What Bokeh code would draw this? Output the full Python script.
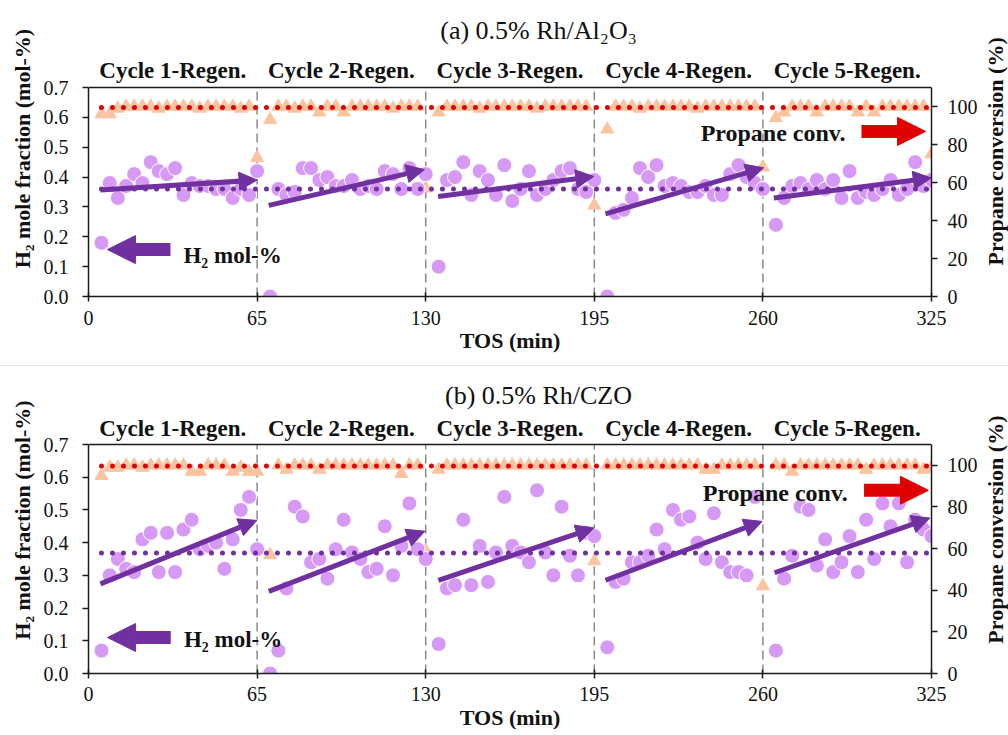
import math
from bokeh.plotting import figure
from bokeh.models import (Range1d, LinearAxis, FixedTicker, PrintfTickFormatter,
                          Span, Arrow, NormalHead, ColumnDataSource, Div)
from bokeh.core.properties import value
from bokeh.layouts import column, row
from bokeh.embed import file_html
from bokeh.resources import INLINE

NAN = float("nan")

# ---------------- data ----------------
cycle_starts = [0, 65, 130, 195, 260]
cycle_labels = ["Cycle 1-Regen.", "Cycle 2-Regen.", "Cycle 3-Regen.",
                "Cycle 4-Regen.", "Cycle 5-Regen."]
sample_min = [5.0, 8.2, 11.3, 14.5, 17.6, 20.8, 24.0, 27.1, 30.3, 33.4,
              36.6, 39.8, 42.9, 46.1, 49.2, 52.4, 55.6, 58.7, 61.9, 65.0]
x_ticks = [0, 65, 130, 195, 260, 325]
h2_ticks = [0.0, 0.1, 0.2, 0.3, 0.4, 0.5, 0.6, 0.7]
conv_ticks = [0, 20, 40, 60, 80, 100]

# (a) 0.5% Rh/Al2O3
a_h2 = [0.18, 0.38, 0.33, 0.37, 0.41, 0.38, 0.45, 0.42, 0.41, 0.43, 0.34, 0.38, 0.37, 0.37, 0.36, 0.36, 0.33, 0.36, 0.34, 0.42,
        0.00, 0.36, 0.34, 0.35, 0.43, 0.43, 0.39, 0.40, 0.37, 0.37, 0.39, 0.36, 0.37, 0.36, 0.42, 0.41, 0.36, 0.43, 0.36, 0.41,
        0.10, 0.39, 0.40, 0.45, 0.34, 0.42, 0.39, 0.34, 0.44, 0.32, 0.36, 0.42, 0.34, 0.36, 0.39, 0.42, 0.43, 0.36, 0.35, 0.39,
        0.00, 0.28, 0.29, 0.33, 0.43, 0.40, 0.44, 0.37, 0.38, 0.37, 0.35, 0.35, 0.37, 0.34, 0.34, 0.41, 0.44, 0.40, 0.38, 0.36,
        0.24, 0.33, 0.37, 0.38, 0.36, 0.39, 0.36, 0.39, 0.33, 0.42, 0.33, 0.35, 0.34, 0.36, 0.39, 0.34, 0.36, 0.45, 0.37, 0.39]
a_conv = [96, 96, 99, 100, 100, 100, 100, 99, 100, 100, 100, 100, 99, 100, 100, 100, 100, 99, 100, 73,
          93, 100, 100, 99, 100, 100, 97, 100, 100, 97, 100, 100, 100, 100, 100, 99, 100, 100, 100, 57,
          97, 100, 100, 100, 100, 99, 100, 100, 100, 100, 100, 100, 99, 100, 100, 100, 100, 100, 100, 48,
          88, 100, 100, 100, 99, 100, 100, 100, 100, 100, 100, 99, 100, 100, 100, 100, 100, 100, 100, 68,
          94, 97, 100, 100, 100, 97, 100, 100, 100, 100, 97, 100, 97, 100, 100, 100, 100, 100, 100, 75]
a_h2_avg = 0.36
a_conv_eq = 99.5
a_trend_x0 = [4.6, 69.5, 134.8, 199.3, 264.2]
a_trend_y0 = [0.357, 0.305, 0.335, 0.277, 0.330]
a_trend_x1 = [65.0, 129.5, 194.8, 260.3, 324.9]
a_trend_y1 = [0.390, 0.425, 0.402, 0.431, 0.397]

# (b) 0.5% Rh/CZO
b_h2 = [0.07, 0.30, 0.35, 0.32, 0.31, 0.41, 0.43, 0.31, 0.43, 0.31, 0.44, 0.47, 0.38, 0.39, 0.40, 0.32, 0.41, 0.50, 0.54, 0.38,
        0.00, 0.07, 0.26, 0.51, 0.48, 0.34, 0.35, 0.29, 0.38, 0.47, 0.37, 0.35, 0.31, 0.32, 0.45, 0.30, 0.39, 0.52, 0.38, 0.35,
        0.09, 0.26, 0.27, 0.47, 0.27, 0.39, 0.28, 0.37, 0.54, 0.39, 0.37, 0.34, 0.56, 0.37, 0.30, 0.51, 0.36, 0.30, 0.43, 0.42,
        0.08, 0.28, 0.29, 0.34, 0.34, 0.36, 0.44, 0.38, 0.50, 0.47, 0.48, 0.40, 0.35, 0.49, 0.34, 0.31, 0.31, 0.30, 0.54, NAN,
        0.07, 0.29, 0.36, 0.51, 0.50, 0.33, 0.41, 0.31, 0.34, 0.42, 0.31, 0.47, 0.35, 0.52, 0.45, 0.52, 0.34, 0.47, 0.44, 0.42]
b_conv = [95, 99, 99, 100, 100, 99, 100, 100, 100, 100, 100, 97, 97, 100, 100, 100, 97, 99, 97, 97,
          57, 100, 98, 100, 100, 100, 98, 100, 100, 100, 100, 100, 100, 100, 100, 100, 96, 100, 100, 59,
          98, 100, 100, 100, 100, 100, 100, 100, 100, 100, 100, 100, 100, 100, 100, 100, 100, 100, 100, 54,
          100, 100, 100, 100, 100, 100, 100, 100, 100, 100, 100, 100, 98, 98, 100, 100, 100, 100, 100, 42,
          100, 100, 97, 100, 100, 100, 100, 100, 100, 100, 100, 98, 100, 100, 100, 100, 100, 100, 98, 99]
b_h2_avg = 0.368
b_conv_eq = 99.7
b_trend_x0 = [4.6, 69.5, 134.9, 199.3, 264.5]
b_trend_y0 = [0.274, 0.251, 0.285, 0.285, 0.308]
b_trend_x1 = [64.9, 129.7, 194.9, 259.7, 324.4]
b_trend_y1 = [0.468, 0.435, 0.445, 0.465, 0.475]

ref_tos = [5, 324]

# ---------------- style ----------------
FONT = "Liberation Serif"
PURPLE = "#7030A0"
LILAC = "#D69AF6"
PEACH = "#FBC3A0"
RED = "#E00000"
INK = "#111111"
H2_MAX = 0.7
CONV_MAX = 110
X_MAX = 325
PLOT_W = 843          # width of the data box (px)
MAIN_W = 981
SIDE_W = 1008 - MAIN_W


def panel(title, h2, conv, h2_avg, conv_eq, tx0, ty0, tx1, ty1,
          h2_note, conv_note, height, box_h, above_px, bottom,
          title_px, cyc_px, tick_standoff, label_standoff, side_label_y):
    # frame extends above the data box so the cycle headers and title sit inside it
    frame_h = box_h + above_px
    px = H2_MAX / box_h                     # data units per pixel (left axis)
    y_top = H2_MAX * frame_h / box_h
    tos = [s + m for s in cycle_starts for m in sample_min]
    src = ColumnDataSource(dict(tos=tos, h2=h2, conv=conv))
    p = figure(width=MAIN_W, height=height,
               x_range=Range1d(0, X_MAX), y_range=Range1d(0, y_top),
               output_backend="svg", toolbar_location=None,
               min_border_left=88, min_border_right=MAIN_W - 88 - PLOT_W,
               min_border_top=0, min_border_bottom=bottom,
               outline_line_color=None)
    p.title.visible = False
    p.extra_y_ranges = {"conv": Range1d(0, CONV_MAX * frame_h / box_h)}
    p.xgrid.visible = False
    p.ygrid.visible = False

    # top border of the data box
    p.add_layout(Span(location=H2_MAX, dimension="width", line_color="#1a1a1a",
                      line_width=1.3))
    # cycle separators
    p.segment(x0=cycle_starts[1:], x1=cycle_starts[1:], y0=0, y1=H2_MAX,
              line_color="#8a8a8a", line_width=1.5, line_dash="9 5")

    p.scatter("tos", "conv", source=src, y_range_name="conv", marker="triangle",
              size=13, fill_color=PEACH, line_color=PEACH)
    p.line(ref_tos, [conv_eq, conv_eq], y_range_name="conv", line_color=RED,
           line_width=5, line_dash="0 11", line_cap="round")
    p.scatter("tos", "h2", source=src, marker="circle", size=15,
              fill_color=LILAC, line_color="white", line_width=1)
    p.line(ref_tos, [h2_avg, h2_avg], line_color=PURPLE,
           line_width=5, line_dash="0 11", line_cap="round")

    for x0, y0, x1, y1 in zip(tx0, ty0, tx1, ty1):
        p.add_layout(Arrow(x_start=x0, y_start=y0, x_end=x1, y_end=y1,
                           line_color=PURPLE, line_width=5,
                           end=NormalHead(size=18, fill_color=PURPLE,
                                          line_color=PURPLE, line_width=1)))

    # block arrows + notes
    hx0, hx1, hy, htx, hty = h2_note
    p.add_layout(Arrow(x_start=hx0, y_start=hy, x_end=hx1, y_end=hy,
                       line_color=PURPLE, line_width=13,
                       end=NormalHead(size=28, fill_color=PURPLE, line_color=PURPLE, line_width=1)))
    p.text(x=[htx], y=[hty], text=["H₂ mol-%"], text_baseline="middle",
           text_font=value(FONT), text_font_size="23px", text_font_style="bold",
           text_color=INK)
    cx0, cx1, cy, ctx, cty = conv_note
    p.add_layout(Arrow(x_start=cx0, y_start=cy, x_end=cx1, y_end=cy,
                       line_color=RED, line_width=13,
                       end=NormalHead(size=28, fill_color=RED, line_color=RED, line_width=1)))
    p.text(x=[ctx], y=[cty], text=["Propane conv."], text_baseline="middle",
           text_font=value(FONT), text_font_size="24px", text_font_style="bold",
           text_color=INK)

    # cycle headers and panel title
    p.text(x=[s + 32.5 for s in cycle_starts], y=[H2_MAX + cyc_px * px] * 5,
           text=cycle_labels, text_align="center", text_baseline="middle",
           text_font=value(FONT), text_font_size="23px", text_font_style="bold",
           text_color=INK)
    p.text(x=[(538 - 88) / PLOT_W * X_MAX], y=[H2_MAX + title_px * px], text=[title],
           text_align="center", text_baseline="middle",
           text_font=value(FONT), text_font_size="26px", text_font_style="normal",
           text_color=INK)

    # axes
    xa = p.xaxis[0]
    xa.ticker = FixedTicker(ticks=x_ticks)
    xa.axis_label = "TOS (min)"
    ya = p.yaxis[0]
    ya.ticker = FixedTicker(ticks=h2_ticks)
    ya.formatter = PrintfTickFormatter(format="%.1f")
    ya.axis_label = "H₂ mole fraction (mol-%)"
    ya.bounds = (0, H2_MAX)
    ra = LinearAxis(y_range_name="conv", ticker=FixedTicker(ticks=conv_ticks),
                    bounds=(0, CONV_MAX))
    p.add_layout(ra, "right")
    for ax in (xa, ya, ra):
        ax.axis_line_color = "#1a1a1a"
        ax.axis_line_width = 1.5
        ax.major_tick_line_color = "#1a1a1a"
        ax.major_tick_line_width = 1.5
        ax.minor_tick_line_color = None
        ax.major_label_text_font = FONT
        ax.major_label_text_font_size = "20px"
        ax.major_label_text_color = INK
        ax.axis_label_text_font = FONT
        ax.axis_label_text_font_size = "22px"
        ax.axis_label_text_font_style = "bold"
        ax.axis_label_text_color = INK
    xa.major_tick_in = 4
    xa.major_tick_out = 5
    xa.major_label_standoff = tick_standoff
    xa.axis_label_standoff = label_standoff
    ya.major_tick_in = 0
    ya.major_tick_out = 6
    ya.major_label_standoff = 14
    ya.axis_label_standoff = 6
    ra.major_tick_in = 0
    ra.major_tick_out = 6
    ra.major_label_standoff = 10

    # right-hand axis title (reads bottom-to-top), in a narrow strip beside the plot
    s = figure(width=SIDE_W, height=height, x_range=Range1d(0, 1),
               y_range=Range1d(0, height), x_axis_type=None, y_axis_type=None,
               output_backend="svg", toolbar_location=None,
               min_border=0, outline_line_color=None)
    s.title.visible = False
    s.grid.visible = False
    s.text(x=[0.5], y=[height - side_label_y], text=["Propane conversion (%)"],
           angle=math.pi / 2, text_align="center", text_baseline="middle",
           text_font=value(FONT), text_font_size="22px", text_font_style="bold",
           text_color=INK)
    return row(p, s)


pa = panel("(a) 0.5% Rh/Al₂O₃", a_h2, a_conv, a_h2_avg, a_conv_eq,
           a_trend_x0, a_trend_y0, a_trend_x1, a_trend_y1,
           (31.6, 7.3, 0.157, 36.6, 0.137), (298.0, 322.7, 0.553, 236.0, 0.546),
           height=365, box_h=209, above_px=87, bottom=69,
           title_px=57, cyc_px=17, tick_standoff=9, label_standoff=0,
           side_label_y=186)
pb = panel("(b) 0.5% Rh/CZO", b_h2, b_conv, b_h2_avg, b_conv_eq,
           b_trend_x0, b_trend_y0, b_trend_x1, b_trend_y1,
           (31.7, 7.35, 0.110, 36.8, 0.104), (299.0, 323.8, 0.560, 236.8, 0.551),
           height=369, box_h=229, above_px=78, bottom=62,
           title_px=49, cyc_px=16, tick_standoff=8, label_standoff=1,
           side_label_y=196)

sep = Div(text="", width=1008, height=1, margin=(0, 0, 0, 0),
          styles={"background-color": "#e4e4e4"})

layout = column(pa, sep, pb)
open("out.html", "w").write(file_html(layout, INLINE))
